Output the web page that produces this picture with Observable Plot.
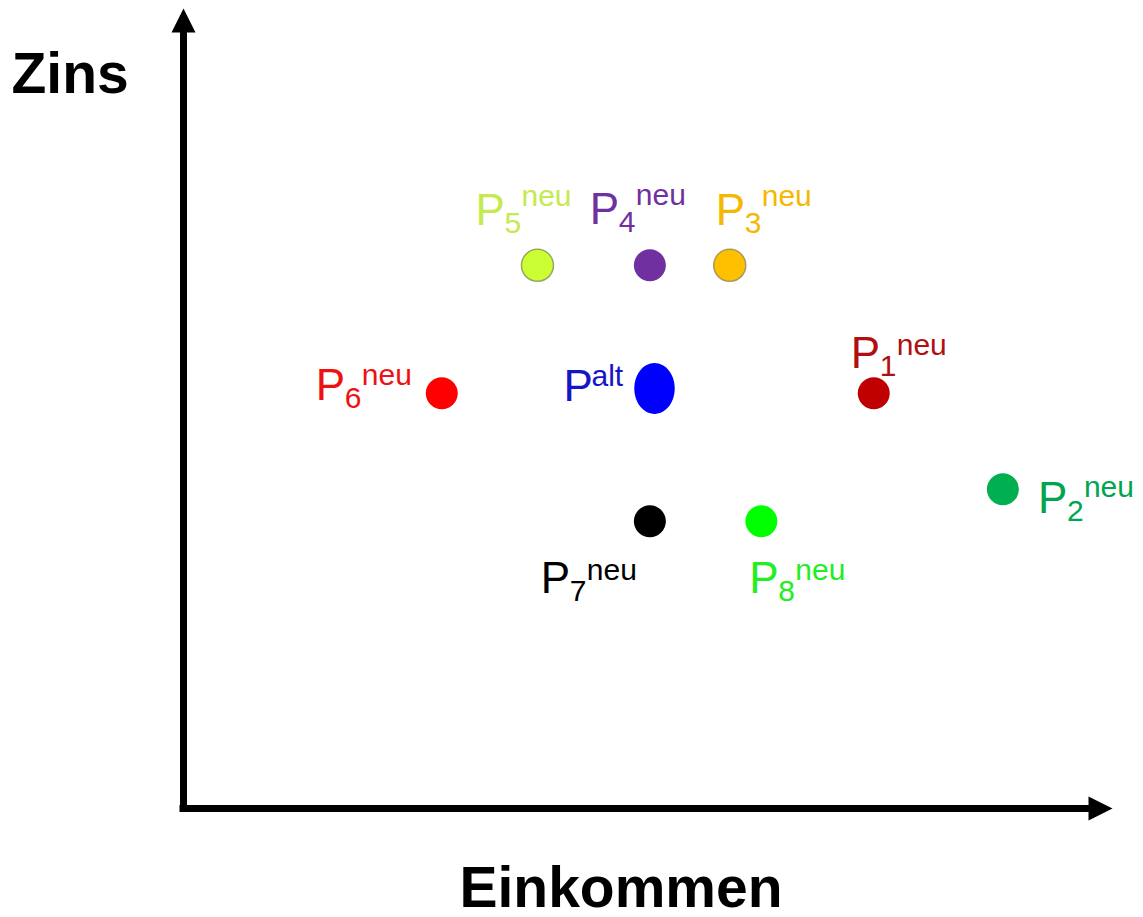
<!DOCTYPE html>
<html>
<head>
<meta charset="utf-8">
<script src="https://cdn.jsdelivr.net/npm/d3@7"></script>
<script src="https://cdn.jsdelivr.net/npm/@observablehq/plot@0.6"></script>
<style>
  body { margin: 0; background: #fff; }
  svg { display: block; }
</style>
</head>
<body>
<div id="chart"></div>
<script>
// ---- data ----
const names        = ["P1", "P2", "P3", "P4", "P5", "P6", "P7", "P8", "Palt"];
const subscripts   = ["1", "2", "3", "4", "5", "6", "7", "8", ""];
const superscripts = ["neu", "neu", "neu", "neu", "neu", "neu", "neu", "neu", "alt"];
const einkommen    = [7.43, 8.82, 5.88, 5.02, 3.81, 2.78, 5.02, 6.22, 5.07];
const zinsWerte    = [5.19, 3.99, 6.79, 6.79, 6.79, 5.19, 3.59, 3.59, 5.25];
const xDomain = [0, 10];
const yDomain = [0, 10];
const xLabel = "Einkommen";
const yLabel = "Zins";

// ---- styles ----
const fills = {
  P1: "#c00000", P2: "#00b050", P3: "#ffc000", P4: "#7030a0", P5: "#ccff33",
  P6: "#ff0000", P7: "#000000", P8: "#00ff00", Palt: "#0000ff"
};
const strokes = { P3: "#a89a5a", P5: "#98a860" };
const textColors = {
  P1: "#b01010", P2: "#00a550", P3: "#f5b800", P4: "#7030a0", P5: "#c4ea4f",
  P6: "#ee1111", P7: "#000000", P8: "#22ee22", Palt: "#1515c8"
};
// label placement: [dx, dy (baseline), superscript dy]
const labelPlacement = {
  P1: [-23, -25, -13], P2: [35, 24, -16], P3: [-14, -40, -19],
  P4: [-60, -41, -19], P5: [-62, -40, -19], P6: [-126, 7, -15],
  P7: [-109, 72, -13], P8: [-12, 72, -13], Palt: [-91, 12, -15]
};

const points = names.map((name, i) => ({
  name, sub: subscripts[i], sup: superscripts[i], x: einkommen[i], y: zinsWerte[i]
}));

// custom symbols
const ellipse = {
  draw(ctx, size) {
    const r = Math.sqrt(size / Math.PI);
    const rx = r * 0.86, ry = r * 1.08, k = 0.5523;
    ctx.moveTo(rx, 0);
    ctx.bezierCurveTo(rx, ry * k, rx * k, ry, 0, ry);
    ctx.bezierCurveTo(-rx * k, ry, -rx, ry * k, -rx, 0);
    ctx.bezierCurveTo(-rx, -ry * k, -rx * k, -ry, 0, -ry);
    ctx.bezierCurveTo(rx * k, -ry, rx, -ry * k, rx, 0);
    ctx.closePath();
  }
};
const arrowHead = {
  draw(ctx, size) {
    const r = Math.sqrt(size / Math.PI);
    ctx.moveTo(0, 0);
    ctx.lineTo(-r / 2, r);
    ctx.lineTo(r / 2, r);
    ctx.closePath();
  }
};

const font = "'Liberation Sans', Arial, Helvetica, sans-serif";

const pointMarks = points.flatMap(p => {
  const [dx, dy, supDy] = labelPlacement[p.name];
  const tc = textColors[p.name];
  const marks = [
    Plot.dot([p], {
      x: "x", y: "y",
      r: p.name === "Palt" ? 23.5 : 16,
      symbol: p.name === "Palt" ? ellipse : "circle",
      fill: fills[p.name],
      stroke: strokes[p.name] || "none",
      strokeWidth: 1.5
    }),
    Plot.text([p], {
      x: "x", y: "y", text: () => "P",
      dx, dy, textAnchor: "start", lineAnchor: "bottom",
      fontSize: 44, fill: tc
    })
  ];
  if (p.sub) {
    marks.push(Plot.text([p], {
      x: "x", y: "y", text: "sub",
      dx: dx + 29, dy: dy + 8, textAnchor: "start", lineAnchor: "bottom",
      fontSize: 30, fill: tc
    }));
  }
  marks.push(Plot.text([p], {
    x: "x", y: "y", text: "sup",
    dx: dx + (p.sub ? 46 : 28), dy: dy + supDy, textAnchor: "start", lineAnchor: "bottom",
    fontSize: 30, fill: tc
  }));
  return marks;
});

const chart = Plot.plot({
  width: 1143,
  height: 917,
  marginLeft: 183,
  marginRight: 31,
  marginTop: 8,
  marginBottom: 109,
  x: { domain: xDomain, axis: null },
  y: { domain: yDomain, axis: null },
  style: { fontFamily: font, background: "#fff" },
  marks: [
    // axes with arrowheads
    Plot.ruleX([xDomain[0]], { y1: () => yDomain[1], y2: () => yDomain[0], stroke: "#000", strokeWidth: 7, insetTop: 20, insetBottom: -3.5 }),
    Plot.ruleY([yDomain[0]], { x1: () => xDomain[0], x2: () => xDomain[1], stroke: "#000", strokeWidth: 7, insetRight: 20, insetLeft: -3.5 }),
    Plot.dot([[xDomain[0], yDomain[1]]], { x: d => d[0], y: d => d[1], symbol: arrowHead, r: 24, fill: "#000", stroke: "none" }),
    Plot.dot([[xDomain[1], yDomain[0]]], { x: d => d[0], y: d => d[1], symbol: arrowHead, r: 24, rotate: 90, fill: "#000", stroke: "none" }),
    // axis titles
    Plot.text([yLabel], { frameAnchor: "top-left", text: d => d, dx: -172, dy: 84, textAnchor: "start", lineAnchor: "bottom", fontSize: 57, fontWeight: "bold", fill: "#000" }),
    Plot.text([xLabel], { frameAnchor: "bottom", text: d => d, dx: -27, dy: 98, textAnchor: "middle", lineAnchor: "bottom", fontSize: 57, fontWeight: "bold", fill: "#000" }),
    ...pointMarks
  ]
});

document.getElementById("chart").appendChild(chart);
</script>
</body>
</html>
